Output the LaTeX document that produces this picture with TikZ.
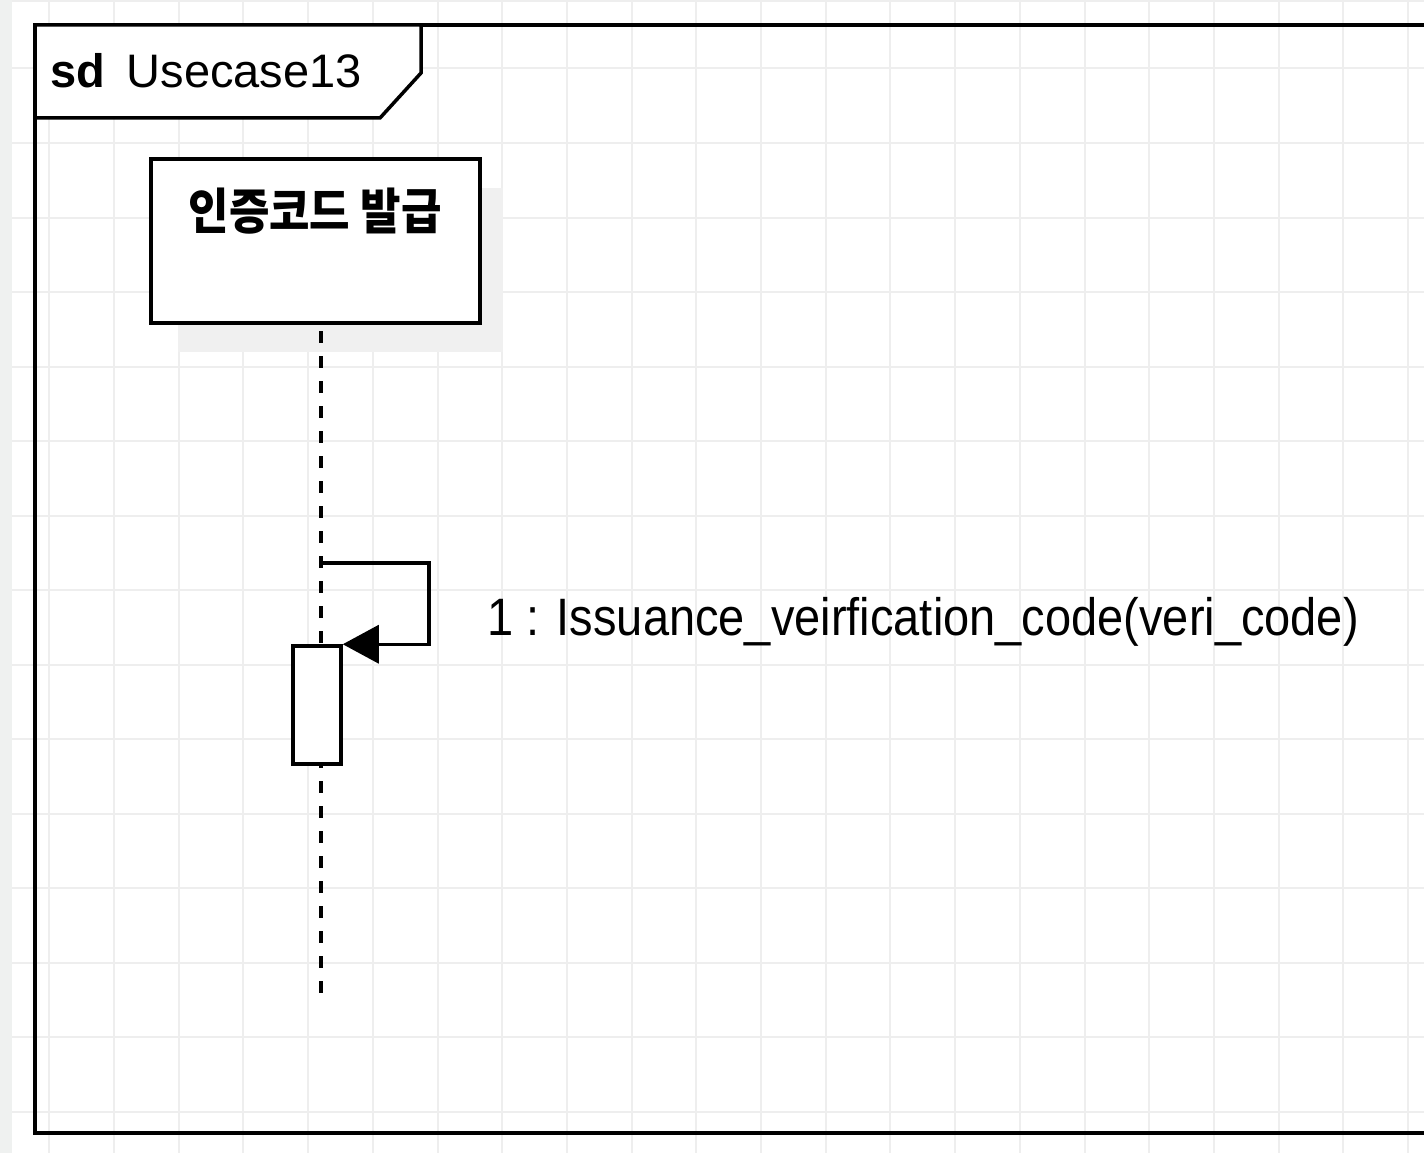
\documentclass[tikz,border=0pt]{standalone}
\usepackage{fontspec}
\setmainfont{Liberation Sans}
\newfontfamily\cjk{Noto Sans CJK KR}
\usetikzlibrary{arrows.meta}
\definecolor{stripgray}{RGB}{239,241,240}
\definecolor{gridgray}{RGB}{238,238,238}
\definecolor{shadowgray}{RGB}{240,240,240}
\tikzset{
  gridline/.style={draw=gridgray, line width=2pt},
  umlline/.style={draw=black, line width=3.5pt},
  headbox/.style={draw=black, line width=3.5pt, fill=white, minimum width=329pt, minimum height=164pt, inner sep=0pt},
  actbox/.style={draw=black, line width=3.5pt, fill=white, minimum width=48pt, minimum height=118pt, inner sep=0pt},
  lifeline/.style={draw=black, line width=3.5pt, dash pattern=on 12pt off 13pt, dash phase=17pt},
  msgline/.style={draw=black, line width=3.5pt, -{Triangle[length=36pt,width=38pt]}},
  bigtext/.style={inner sep=0pt, font=\fontsize{47}{56}\selectfont},
}
\begin{document}
\begin{tikzpicture}[x=1pt,y=-1pt]
\useasboundingbox (0,0) rectangle (1424,1153);
\clip (0,0) rectangle (1424,1153);
\fill[white] (0,0) rectangle (1424,1153);
\fill[stripgray] (0,0) rectangle (12,1153);
% grid
\foreach \i in {0,...,21} \draw[gridline] ({49.3+64.7*\i},0) -- ({49.3+64.7*\i},1153);
\foreach \j in {0,...,14} \draw[gridline] (12,{68.5+74.5*\j}) -- (1424,{68.5+74.5*\j});
\draw[gridline] (12,1) -- (1424,1);
% frame
\draw[umlline] (1440,25) -- (35,25) -- (35,1133) -- (1440,1133);
\draw[umlline, fill=white] (35,25) -- (421,25) -- (421,73) -- (380,118) -- (35,118) -- cycle;
\node[bigtext, anchor=base west] (title) at (50.5,88) {\textbf{sd}\hspace{8pt} Usecase13};
% lifeline head with shadow
\fill[shadowgray] (178,188) rectangle (503,352);
\node[headbox] (head) at (315.5,241) {};
\node[inner sep=0pt, anchor=base] (headlabel) at (315,229) {\scalebox{1}[1.12]{\cjk\bfseries\fontsize{44}{50}\selectfont 인증코드 발급}};
% lifeline
\coordinate (lltop) at (321,323);
\coordinate (llend) at (321,995);
\draw[lifeline] (lltop) -- (llend);
% activation
\node[actbox] (act) at (317,705) {};
% self message
\coordinate (msgstart) at (321,563);
\coordinate (turn) at (429,563);
\draw[msgline] (msgstart) -- (turn) |- (act.north east);
\node[bigtext, anchor=base west] (msglabel) at (487,635) {\scalebox{1}[1.12]{1 : Issuance\_veirfication\_code(veri\_code)}};
\end{tikzpicture}
\end{document}
